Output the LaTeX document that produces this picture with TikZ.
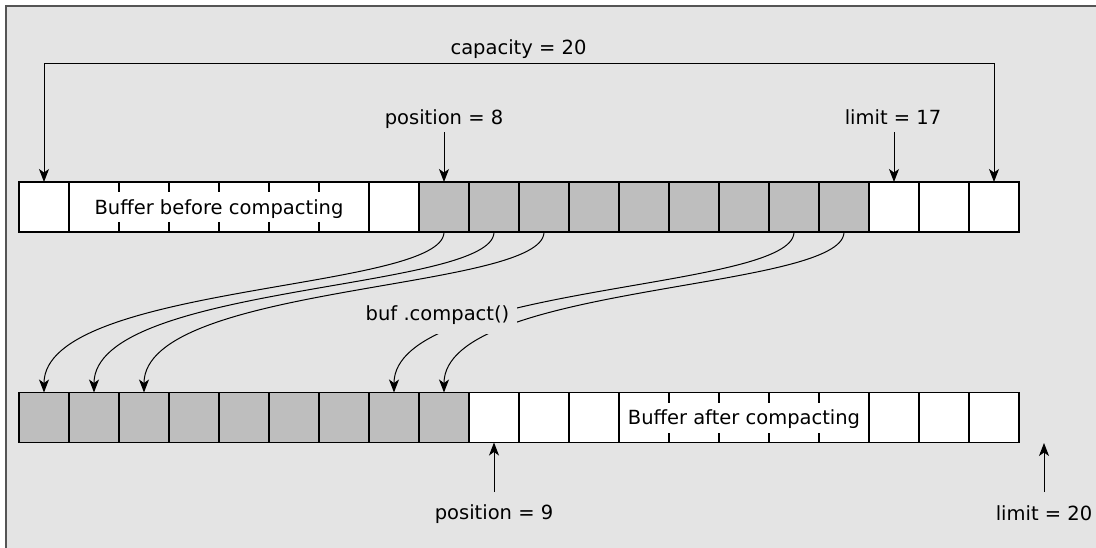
\documentclass[tikz,border=0pt]{standalone}
\usepackage{fontspec}
\setmainfont{DejaVu Sans}
\usetikzlibrary{arrows.meta}
\definecolor{bgc}{RGB}{228,228,228}
\definecolor{cellgray}{RGB}{190,190,190}
\definecolor{framec}{RGB}{85,85,85}
\begin{document}
\begin{tikzpicture}[x=1pt,y=-1pt,
  cell/.style={minimum size=50pt, inner sep=0pt, outer sep=0pt, fill=white},
  gcell/.style={cell, fill=cellgray},
  lbl/.style={font=\fontsize{19.5}{23}\selectfont, inner sep=0pt, anchor=base},
  arr/.style={line width=1pt, -{Stealth[length=13pt,width=10pt,inset=3.5pt]}},
  dblarr/.style={line width=1pt, {Stealth[length=13pt,width=10pt,inset=3.5pt]}-{Stealth[length=13pt,width=10pt,inset=3.5pt]}},
  divider/.style={line width=1.2pt},
  outline/.style={line width=1.7pt}]
\useasboundingbox (0,0) rectangle (1096,547);
\fill[white] (0,0) rectangle (1096,547);
\draw[framec, line width=2pt, fill=bgc] (6,6) rectangle (1110,560);

% top buffer cells
\foreach \i in {0,...,19}{
  \ifnum\i<8 \def\cs{cell}\else\ifnum\i<17 \def\cs{gcell}\else\def\cs{cell}\fi\fi
  \node[\cs] (t\i) at ({44+50*\i},207) {};
}
% bottom buffer cells
\foreach \i in {0,...,19}{
  \ifnum\i<9 \def\cs{gcell}\else\def\cs{cell}\fi
  \node[\cs] (b\i) at ({44+50*\i},417.5) {};
}

\node[lbl] (tb) at (219,214) {Buffer before compacting};
\node[lbl] (ba) at (744,424.5) {Buffer after compacting};

% dividers top
\foreach \i in {0,6,7,...,18} \draw[divider] (t\i.north east) -- (t\i.south east);
\foreach \i in {1,...,5}{
  \draw[divider] (t\i.north east) -- ++(0,10);
  \draw[divider] (t\i.south east) -- ++(0,-10);
}
% dividers bottom
\foreach \i in {0,...,11,16,17,18} \draw[divider] (b\i.north east) -- (b\i.south east);
\foreach \i in {12,...,15}{
  \draw[divider] (b\i.north east) -- ++(0,10);
  \draw[divider] (b\i.south east) -- ++(0,-10);
}
\draw[outline] (t0.north west) rectangle (t19.south east);
\draw[outline] (b0.north west) rectangle (b19.south east);

% labels
\node[lbl] (cap) at (518.5,54) {capacity = 20};
\node[lbl] (lp8) at (444,124) {position = 8};
\node[lbl] (l17) at (893,124) {limit = 17};
\node[lbl] (lp9) at (494,519) {position = 9};
\node[lbl] (l20) at (1044,520) {limit = 20};
\coordinate (capy) at (0,63.5);
\coordinate (l20end) at (1044,443);

% capacity bracket
\draw[dblarr] (t0.north) -- (t0.north |- capy) -- (t19.north |- capy) -- (t19.north);
% pointer arrows
\draw[arr, shorten <=8pt] (t8.north |- lp8.base) -- (t8.north);
\draw[arr, shorten <=8pt] (t17.north |- l17.base) -- (t17.north);
\draw[arr, shorten <=27pt] (b9.south |- lp9.base) -- (b9.south);
\draw[arr, shorten <=28pt] (l20end |- l20.base) -- (l20end);

% compaction curves
\draw[arr] (t8.south) .. controls +(0,59) and +(0,-109) .. (b0.north);
\draw[arr] (t9.south) .. controls +(0,59) and +(0,-109) .. (b1.north);
\draw[arr] (t10.south) .. controls +(0,59) and +(0,-109) .. (b2.north);
\draw[arr] (t15.south) .. controls +(0,59) and +(0,-109) .. (b7.north);
\draw[arr] (t16.south) .. controls +(0,59) and +(0,-109) .. (b8.north);

\node[font=\fontsize{19.5}{23}\selectfont, fill=bgc, inner sep=0pt,
  minimum width=159pt, minimum height=38pt, text height=15pt, text depth=4pt]
  (comp) at (437.5,315) {buf .compact()};
\end{tikzpicture}
\end{document}
